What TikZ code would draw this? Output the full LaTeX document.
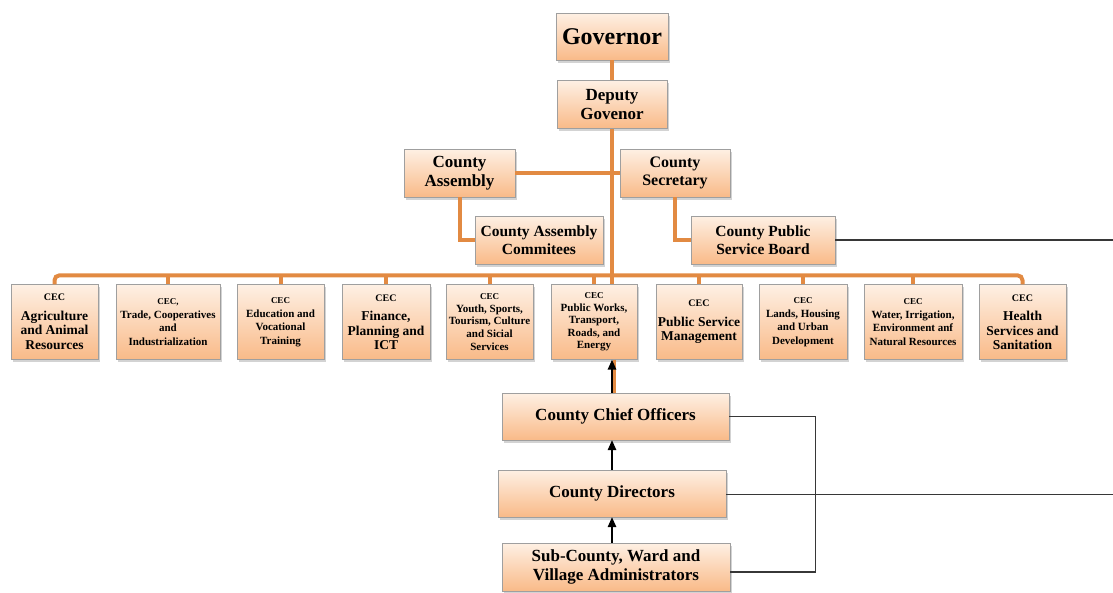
\documentclass[tikz,border=0pt]{standalone}
\usepackage{fontspec}
\setmainfont{Liberation Serif}
\usetikzlibrary{shapes,arrows,arrows.meta,positioning,shadows}

\definecolor{boxtop}{RGB}{254,240,228}
\definecolor{boxbot}{RGB}{249,186,136}
\definecolor{linkorange}{RGB}{226,138,66}
\definecolor{wiregray}{RGB}{55,55,55}

\begin{document}
\begin{tikzpicture}[
    x=1pt, y=-1pt,
    block/.style={draw=gray!75, top color=boxtop, bottom color=boxbot, align=center, inner sep=1pt,
        drop shadow={shadow xshift=1.5pt, shadow yshift=-2.5pt, opacity=0.35},
        minimum height=48pt, font=\bfseries\fontsize{17}{19}\selectfont},
    blocksm/.style={block, font=\bfseries\fontsize{15.5}{18}\selectfont},
    cec/.style={block, minimum height=75pt, font=\bfseries\fontsize{11}{13.5}\selectfont},
    ceclarge/.style={cec, font=\bfseries\fontsize{13.5}{14.5}\selectfont},
    link/.style={draw=linkorange, line width=4pt},
    wire/.style={draw=wiregray, line width=1.2pt},
    arrow/.style={line width=1.5pt,->,>={Triangle[length=10pt,width=8.5pt]}}
]
    \useasboundingbox (0,0) rectangle (1113,592);

    % top of the chart
    \node (gov) [block, minimum width=112pt, minimum height=47pt, font=\bfseries\fontsize{24}{26}\selectfont] at (612,36.5) {Governor};
    \node (dep) [block, minimum width=110pt, below=20pt of gov] {Deputy\\Govenor};
    \node (asm) [block, minimum width=111pt] at (459.5,173) {County\\Assembly};
    \node (sec) [blocksm, minimum width=110pt, font=\bfseries\fontsize{16}{18.5}\selectfont] at (675,173) {County\\Secretary};
    \node (com) [blocksm, minimum width=128pt] at (539,240) {County Assembly\\Commitees};
    \node (psb) [blocksm, minimum width=144pt] at (763,240) {County Public\\Service Board};

    % CEC row
    \node (agr) [ceclarge, minimum width=87pt] at (54.5,322) {{\normalsize CEC}\\[5pt]Agriculture\\and Animal\\Resources};
    \node (trd) [cec, minimum width=104pt] at (168,322) {{\small CEC,}\\Trade, Cooperatives\\and\\Industrialization};
    \node (edu) [cec, minimum width=87pt] at (280.5,322) {{\small CEC}\\Education and\\Vocational\\Training};
    \node (fin) [ceclarge, minimum width=88pt] at (386,322) {{\normalsize CEC}\\[5pt]Finance,\\Planning and\\ICT};
    \node (yth) [cec, minimum width=87pt, font=\bfseries\fontsize{11}{12.6}\selectfont] at (489.5,322) {{\small CEC}\\Youth, Sports,\\Tourism, Culture\\and Sicial\\Services};
    \node (pw) [cec, minimum width=86pt, font=\bfseries\fontsize{11}{12.6}\selectfont] at (594,322) {{\small CEC}\\Public Works,\\Transport,\\Roads, and\\Energy};
    \node (psm) [ceclarge, minimum width=86pt] at (699,322) {{\normalsize CEC}\\[5pt]Public Service\\Management};
    \node (lnd) [cec, minimum width=88pt] at (803,322) {{\small CEC}\\Lands, Housing\\and Urban\\Development};
    \node (wtr) [cec, minimum width=98pt] at (913,322) {{\small CEC}\\Water, Irrigation,\\Environment anf\\Natural Resources};
    \node (hlt) [ceclarge, minimum width=87pt] at (1022.5,322) {{\normalsize CEC}\\[5pt]Health\\Services and\\Sanitation};

    % officers
    \node (chief) [block, minimum width=227pt, minimum height=47pt] at (615.5,416.5) {County Chief Officers};
    \node (dir) [block, minimum width=228pt, minimum height=47pt] at (612,493.5) {County Directors};
    \node (sub) [block, minimum width=228pt] at (616,567) {Sub-County, Ward and\\Village Administrators};

    \coordinate (endA) at (1113,240);
    \coordinate (endB) at (1113,494.5);

    % orange links
    \draw [link] (gov) -- (dep);
    \draw [link] (dep.south) -- (dep.south |- pw.north);
    \draw [link] (asm.east) -- (sec.west);
    \draw [link] (asm.south) |- (com.west);
    \draw [link] (sec.south) |- (psb.west);
    \draw [link, rounded corners=5pt] (agr.north) -- ++(0,-9) -| (hlt.north);
    \foreach \n in {trd,edu,fin,yth,pw,psm,lnd,wtr}
        \draw [link] (\n.north) -- ++(0,-9);
    \draw [link, line width=3pt] ([xshift=2pt]dep.south |- pw.south) -- ([xshift=2pt]dep.south |- chief.north);

    % arrows
    \draw [arrow] (chief.north -| dep.south) -- (pw.south -| dep.south);
    \draw [arrow] (dir.north) -- (dir.north |- chief.south);
    \draw [arrow] (dir.south |- sub.north) -- (dir.south);

    % thin lines
    \draw [wire] (psb.east) -- (endA);
    \draw [wire] ([yshift=-1pt]dir.east) -- (endB);
    \draw [wire] (chief.east) -- ++(86,0) |- ([yshift=-5pt]sub.east);
\end{tikzpicture}
\end{document}
